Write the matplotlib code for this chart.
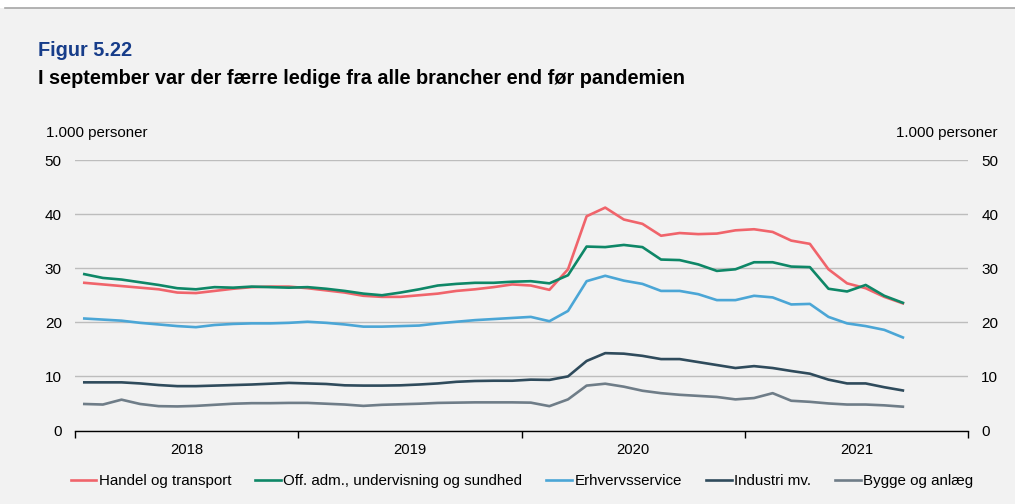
import matplotlib.pyplot as plt

plt.rcParams['font.family'] = ['Liberation Sans', 'DejaVu Sans']

# Monthly data, Jan 2018 - Sep 2021 (1.000 personer)
years = ['2018', '2019', '2020', '2021']
series_names = ['Handel og transport', 'Off. adm., undervisning og sundhed',
                'Erhvervsservice', 'Industri mv.', 'Bygge og anlæg']

handel = [27.3, 27.0, 26.7, 26.4, 26.1, 25.5, 25.4, 25.8, 26.2, 26.5, 26.6, 26.6,
          26.3, 25.9, 25.5, 24.9, 24.7, 24.7, 25.0, 25.3, 25.8, 26.1, 26.5, 27.0,
          26.8, 26.0, 29.8, 39.6, 41.2, 39.0, 38.2, 36.0, 36.5, 36.3, 36.4, 37.0,
          37.2, 36.7, 35.1, 34.5, 29.8, 27.2, 26.3, 24.7, 23.5]
offentlig = [28.9, 28.2, 27.9, 27.4, 26.9, 26.3, 26.1, 26.5, 26.4, 26.6, 26.5, 26.4,
             26.5, 26.2, 25.8, 25.3, 25.0, 25.5, 26.1, 26.8, 27.1, 27.3, 27.3, 27.5,
             27.6, 27.2, 28.7, 34.0, 33.9, 34.3, 33.9, 31.6, 31.5, 30.7, 29.5, 29.8,
             31.1, 31.1, 30.3, 30.2, 26.2, 25.7, 26.9, 24.9, 23.6]
erhverv = [20.7, 20.5, 20.3, 19.9, 19.6, 19.3, 19.1, 19.5, 19.7, 19.8, 19.8, 19.9,
           20.1, 19.9, 19.6, 19.2, 19.2, 19.3, 19.4, 19.8, 20.1, 20.4, 20.6, 20.8,
           21.0, 20.2, 22.1, 27.6, 28.6, 27.7, 27.1, 25.8, 25.8, 25.2, 24.1, 24.1,
           24.9, 24.6, 23.3, 23.4, 21.0, 19.8, 19.3, 18.6, 17.2]
industri = [8.9, 8.9, 8.9, 8.7, 8.4, 8.2, 8.2, 8.3, 8.4, 8.5, 8.65, 8.8,
            8.7, 8.6, 8.35, 8.3, 8.3, 8.35, 8.5, 8.7, 9.0, 9.15, 9.2, 9.2,
            9.4, 9.35, 10.0, 12.85, 14.3, 14.2, 13.8, 13.2, 13.2, 12.65, 12.1, 11.55,
            11.9, 11.55, 11.0, 10.5, 9.4, 8.7, 8.7, 8.0, 7.4]
bygge = [4.9, 4.8, 5.7, 4.9, 4.5, 4.45, 4.55, 4.75, 4.95, 5.05, 5.05, 5.1,
         5.1, 4.95, 4.8, 4.55, 4.75, 4.85, 4.95, 5.1, 5.15, 5.2, 5.2, 5.2,
         5.15, 4.5, 5.75, 8.3, 8.65, 8.1, 7.35, 6.9, 6.6, 6.4, 6.2, 5.75,
         6.0, 6.9, 5.5, 5.3, 5.0, 4.8, 4.8, 4.65, 4.4]

colors = ['#f0646b', '#0e8767', '#4ba6d6', '#2f4b5c', '#6f7d88']
bg = '#f2f2f2'

fig = plt.figure(figsize=(10.15, 5.04), dpi=100, facecolor=bg)
# white strip and thin line at the very top
fig.patches.append(plt.Rectangle((0, 1 - 8 / 504), 1, 8 / 504, transform=fig.transFigure,
                                 facecolor='white', edgecolor='none'))
fig.add_artist(plt.Line2D([0.005, 1], [1 - 8 / 504] * 2, transform=fig.transFigure,
                          color='#a6a6a6', lw=1.2))

ax = fig.add_axes([75 / 1015, 1 - 430.5 / 504, 893 / 1015, 270.5 / 504])
ax.set_facecolor(bg)

x = [i + 0.5 for i in range(len(handel))]
for vals, name, c in zip([handel, offentlig, erhverv, industri, bygge], series_names, colors):
    ax.plot(x, vals, color=c, lw=1.9, label=name, solid_joinstyle='round')

ax.set_xlim(0, 48)
ax.set_ylim(0, 50)
ax.set_yticks(range(0, 51, 10))
ax.grid(axis='y', color='#bdbdbd', lw=1)
ax.set_axisbelow(True)
for s in ['top', 'left', 'right']:
    ax.spines[s].set_visible(False)
ax.spines['bottom'].set_color('black')
ax.spines['bottom'].set_linewidth(1)

ax.set_xticks([0, 12, 24, 36, 48])
ax.set_xticklabels([])
ax.set_xticks([6, 18, 30, 42], minor=True)
ax.set_xticklabels(years, minor=True)
ax.tick_params(axis='x', which='major', length=5, width=1, color='black', direction='out')
ax.tick_params(axis='x', which='minor', length=0, pad=9, labelsize=10.7)
ax.tick_params(axis='y', length=0, labelleft=True, labelright=True, labelsize=11, pad=9.5)

fig.text(38 / 1015, 1 - 50 / 504, 'Figur 5.22', color='#173d8a', fontsize=14.3,
         fontweight='bold', va='center')
fig.text(38 / 1015, 1 - 78 / 504, 'I september var der færre ledige fra alle brancher end før pandemien',
         fontsize=14.3, fontweight='bold', va='center')
fig.text(46 / 1015, 1 - 133 / 504, '1.000 personer', fontsize=10.8, va='center')
fig.text(998 / 1015, 1 - 133 / 504, '1.000 personer', fontsize=10.8, va='center', ha='right')

fig.legend(loc='center', bbox_to_anchor=(522 / 1015, 1 - 481 / 504), ncol=5, frameon=False,
           fontsize=10.9, handlelength=1.7, handletextpad=0.15, columnspacing=1.6)

fig.savefig('out.png', dpi=100, facecolor=bg)
